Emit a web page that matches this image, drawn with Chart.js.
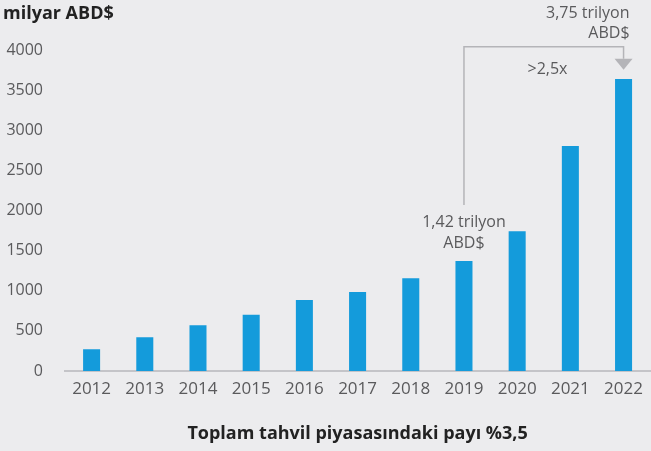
<!DOCTYPE html>
<html>
<head>
<meta charset="utf-8">
<script src="https://cdn.jsdelivr.net/npm/chart.js@4"></script>
<style>
  html, body { margin: 0; padding: 0; background: #ececee; }
  #wrap { width: 651px; height: 451px; }
</style>
</head>
<body>
<div id="wrap"><canvas id="chart"></canvas></div>
<script>
// Data
const years = ['2012', '2013', '2014', '2015', '2016', '2017', '2018', '2019', '2020', '2021', '2022'];
const values = [270, 420, 570, 700, 885, 985, 1155, 1370, 1740, 2805, 3640];
const yTicks = [0, 500, 1000, 1500, 2000, 2500, 3000, 3500, 4000];

const FONT = '"Open Sans", Lato, sans-serif';
const GRAY = '#5a5a5c';
const LINE = '#b4b4b8';

// Draws the unit label, the two callouts and the bracket arrow
const annotations = {
  id: 'annotations',
  afterDraw(chart) {
    const ctx = chart.ctx;
    const x = chart.scales.x;
    const y = chart.scales.y;
    const x19 = x.getPixelForValue(7);
    const x22 = x.getPixelForValue(10);
    const top = y.getPixelForValue(4040);
    const bottom = y.getPixelForValue(2070);
    ctx.save();

    // unit label
    ctx.fillStyle = '#222';
    ctx.font = 'bold 18px ' + FONT;
    ctx.textAlign = 'left';
    ctx.textBaseline = 'middle';
    ctx.fillText('milyar ABD$', 3, 14);

    // bracket
    ctx.strokeStyle = LINE;
    ctx.lineWidth = 1.5;
    ctx.beginPath();
    ctx.moveTo(x19, bottom);
    ctx.lineTo(x19, top);
    ctx.lineTo(x22, top);
    ctx.lineTo(x22, top + 12);
    ctx.stroke();
    ctx.fillStyle = LINE;
    ctx.beginPath();
    ctx.moveTo(x22 - 9, top + 12);
    ctx.lineTo(x22 + 9, top + 12);
    ctx.lineTo(x22, top + 23);
    ctx.closePath();
    ctx.fill();

    ctx.fillStyle = GRAY;
    ctx.font = '16px ' + FONT;
    ctx.textAlign = 'center';
    ctx.fillText('>2,5x', x.getPixelForValue(8.57), top + 23);

    ctx.fillText('1,42 trilyon', x19, bottom + 18);
    ctx.fillText('ABD$', x19, bottom + 39);

    ctx.textAlign = 'right';
    ctx.fillText('3,75 trilyon', x22 + 6, 13);
    ctx.fillText('ABD$', x22 + 6, 33);
    ctx.restore();
  }
};

new Chart(document.getElementById('chart'), {
  type: 'bar',
  data: {
    labels: years,
    datasets: [{
      data: values,
      backgroundColor: '#149bdb',
      barPercentage: 0.32,
      categoryPercentage: 1
    }]
  },
  options: {
    responsive: true,
    maintainAspectRatio: false,
    animation: false,
    layout: { padding: { top: 50, right: 0, bottom: 6, left: 0 } },
    plugins: {
      legend: { display: false },
      tooltip: { enabled: false }
    },
    scales: {
      x: {
        grid: { display: false, drawTicks: false },
        border: { color: '#c4c4c8', width: 2 },
        ticks: { color: GRAY, font: { family: FONT, size: 17 }, padding: 8 },
        title: {
          display: true,
          text: 'Toplam tahvil piyasasındaki payı %3,5',
          color: '#222',
          font: { family: FONT, size: 18, weight: 'bold' },
          padding: { top: 16, bottom: 0 }
        }
      },
      y: {
        min: 0,
        max: 4000,
        afterBuildTicks(scale) {
          scale.ticks = yTicks.map(v => ({ value: v }));
        },
        afterFit(scale) { scale.width = 65; },
        grid: { display: false, drawTicks: false },
        border: { display: false },
        ticks: {
          color: GRAY,
          font: { family: FONT, size: 16 },
          padding: 22,
          callback: v => String(v)
        }
      }
    }
  },
  plugins: [annotations]
});
</script>
</body>
</html>
